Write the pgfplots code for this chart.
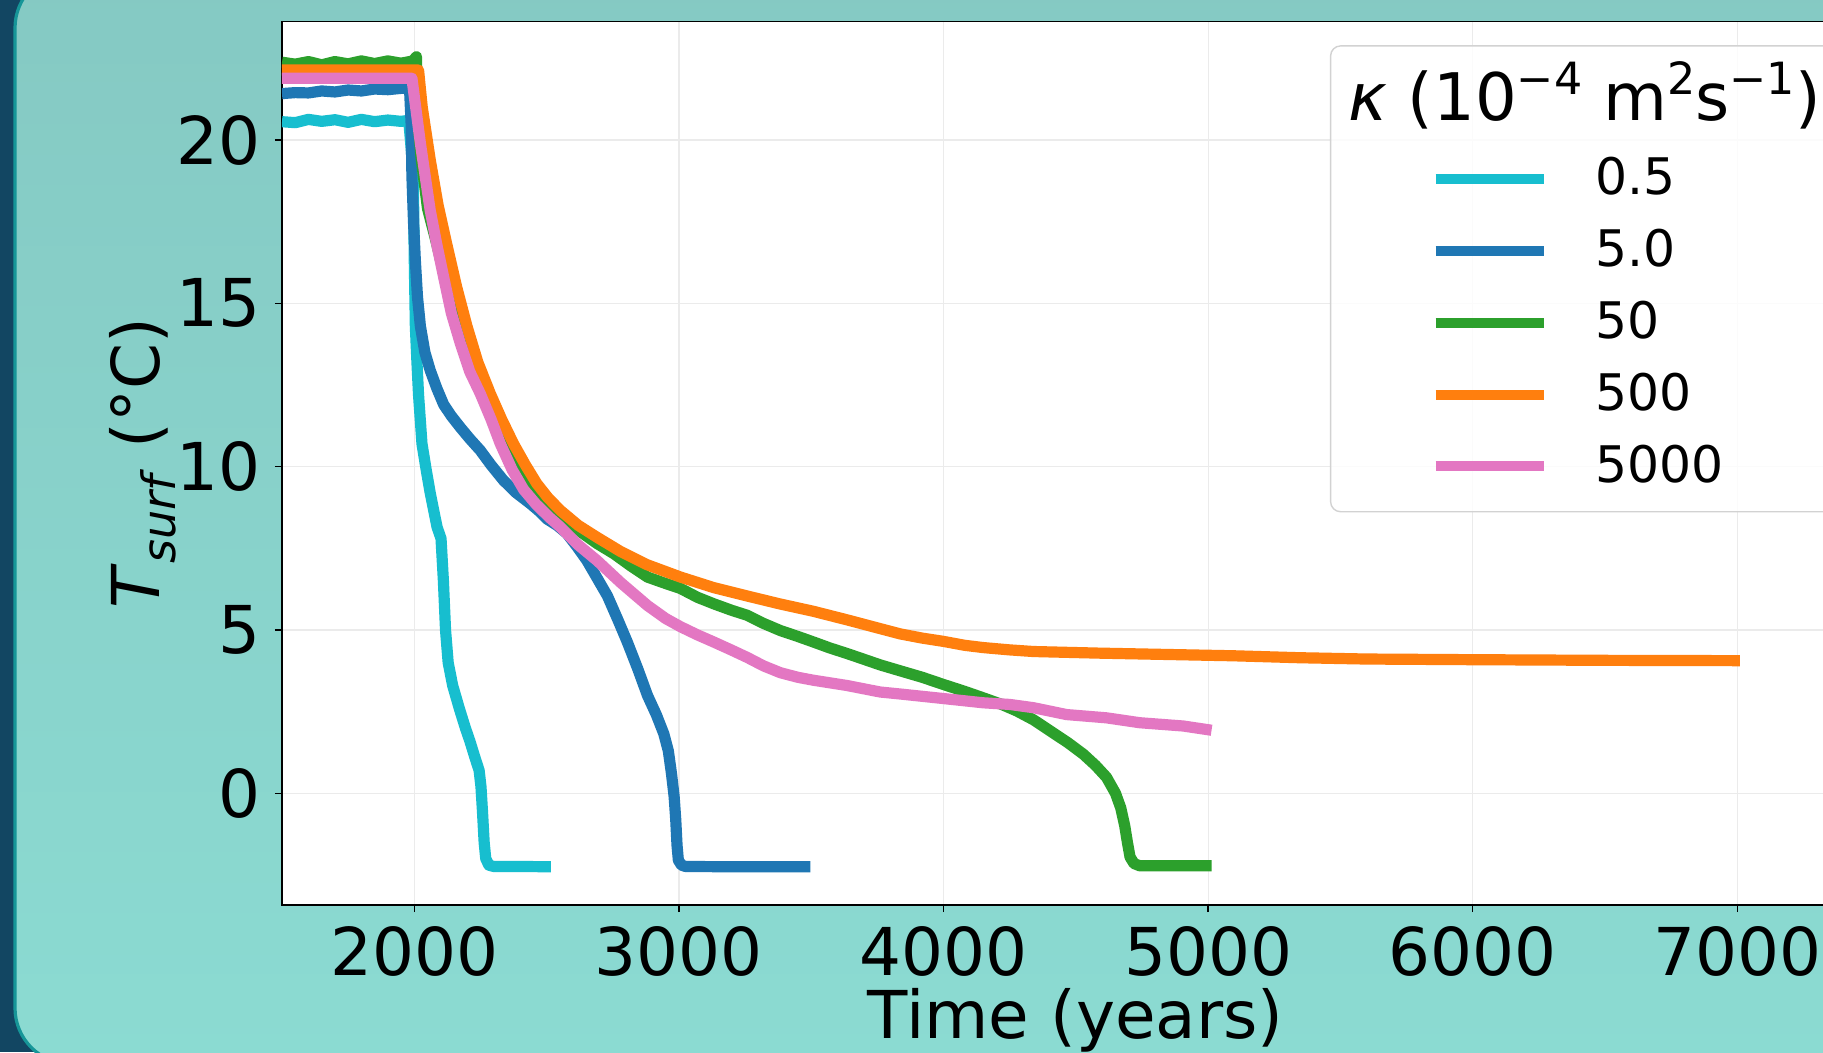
\documentclass[border=0pt]{standalone}
\usepackage{fontspec}
\setmainfont{DejaVu Sans}
\usepackage{pgfplots}
\pgfplotsset{compat=1.18}

\definecolor{tcyan}{HTML}{17BECF}
\definecolor{tblue}{HTML}{1F77B4}
\definecolor{tgreen}{HTML}{2CA02C}
\definecolor{torange}{HTML}{FF7F0E}
\definecolor{tpink}{HTML}{E377C2}
\definecolor{bgtop}{RGB}{133,201,195}
\definecolor{bgbot}{RGB}{139,219,210}
\definecolor{strip}{RGB}{18,70,98}
\definecolor{paneledge}{RGB}{22,150,152}
\definecolor{gridgray}{RGB}{235,235,235}

\newcommand{\supx}[1]{\raisebox{6.4pt}{\fontsize{11.1}{12}\selectfont #1}}

\begin{document}
\begin{tikzpicture}
\path[use as bounding box] (0,0) rectangle (455.75pt,263pt);
% slide background
\fill[strip] (0,0) rectangle (455.75pt,263pt);
\shade[top color=bgtop, bottom color=bgbot, draw=paneledge, line width=0.8pt,
  rounded corners=14pt] (3.75pt,-3pt) rectangle (470pt,270pt);

\begin{axis}[
  at={(70.5pt,36.75pt)}, anchor=south west,
  scale only axis, width=396.9pt, height=220.9pt,
  xmin=1500, xmax=7500, ymin=-3.42, ymax=23.63,
  axis background/.style={fill=white},
  axis line style={line width=0.4pt},
  xtick={2000,3000,...,7000}, ytick={0,5,...,20},
  tick align=outside, major tick length=1.75pt,
  tick style={black, line width=0.35pt},
  xtick pos=bottom, ytick pos=left,
  grid=major, major grid style={gridgray, line width=0.3pt},
  scaled ticks=false,
  /pgf/number format/1000 sep={},
  /pgf/number format/assume math mode=true,
  ticklabel style={font=\fontsize{16.5}{20}\selectfont},
  xlabel={Time (years)},
  ylabel={\textit{T}\raisebox{-0.25em}{\fontsize{11.5}{12}\selectfont\textit{surf}} (°C)},
  label style={font=\fontsize{16.5}{20}\selectfont},
  xlabel style={at={(axis description cs:0.5,0)}, anchor=base, yshift=-33.25pt},
  ylabel style={at={(axis description cs:-0.0876,0.5)}, anchor=center},
  legend style={at={(axis description cs:0.7235,0.8459)}, anchor=north west,
    draw=none, fill=none, inner sep=0pt, outer sep=0pt,
    row sep=7.1pt, column sep=11.75pt,
    font=\fontsize{12.6}{15}\selectfont, nodes={inner sep=0pt}},
  legend cell align=left,
  legend image code/.code={\draw[#1, line width=2.5pt] (0pt,0pt) -- (27pt,0pt);},
  every axis plot/.append style={line width=2.8pt, line join=round},
]

% legend frame and title
\draw[gray!35, line width=0.35pt, fill=white, fill opacity=0.8, rounded corners=2.5pt]
  (axis cs:5463,8.62) rectangle (axis cs:7700,22.88);
\node[anchor=base west, inner sep=0pt, font=\fontsize{16.4}{19}\selectfont]
  at (axis cs:5527,20.61) {\textit{κ} (10\supx{−4} m\supx{2}s\supx{−1})};

% kappa = 0.5
\addplot[tcyan] coordinates {
(1500,20.56) (1550,20.53) (1600,20.63) (1650,20.57) (1700,20.62) (1750,20.54)
(1800,20.63) (1850,20.56) (1900,20.61) (1950,20.57) (1979,20.6)
(1996,19.0) (2000,16.3) (2004,14.3) (2010,13.2) (2016,12.2) (2029,10.7)
(2045,9.9) (2060,9.2) (2086,8.15) (2101,7.8) (2110,6.5) (2118,5.0)
(2128,4.0) (2145,3.3) (2170,2.6) (2193,2.0) (2210,1.6) (2229,1.1)
(2245,0.7) (2252,0.2) (2258,-0.6) (2264,-1.5) (2270,-2.0) (2282,-2.2)
(2300,-2.24) (2400,-2.24) (2516,-2.25)};
\addlegendentry{0.5}

% kappa = 5.0
\addplot[tblue] coordinates {
(1500,21.42) (1550,21.45) (1600,21.44) (1650,21.5) (1700,21.47) (1750,21.53)
(1800,21.5) (1850,21.56) (1900,21.54) (1950,21.58) (1982,21.58)
(1988,20.5) (1991,18.9) (1997,17.5) (2004,16.3) (2012,15.2) (2023,14.3)
(2040,13.5) (2060,12.95) (2085,12.4) (2111,11.9) (2140,11.55) (2174,11.2)
(2210,10.85) (2249,10.5) (2290,10.05) (2337,9.58) (2385,9.2) (2438,8.87)
(2470,8.65) (2501,8.4) (2540,8.2) (2577,7.95) (2615,7.55) (2652,7.13)
(2690,6.6) (2730,6.04) (2770,5.3) (2805,4.63) (2845,3.8) (2881,3.0)
(2915,2.4) (2943,1.82) (2960,1.3) (2972,0.6) (2982,-0.1) (2988,-0.8)
(2993,-1.6) (2998,-2.05) (3010,-2.2) (3025,-2.24) (3200,-2.25) (3497,-2.25)};
\addlegendentry{5.0}

% kappa = 50
\addplot[tgreen] coordinates {
(1500,22.38) (1550,22.32) (1600,22.4) (1650,22.3) (1700,22.4) (1750,22.33)
(1800,22.42) (1850,22.34) (1900,22.42) (1950,22.35) (1995,22.42) (2008,22.55)
(2012,20.8) (2025,19.5) (2050,17.9) (2079,17.0) (2100,16.3) (2123,15.9)
(2150,15.0) (2193,13.9) (2240,12.9) (2290,11.8) (2350,10.7) (2410,9.8)
(2460,9.3) (2503,8.95) (2560,8.5) (2629,8.0) (2690,7.65) (2755,7.33)
(2820,6.95) (2881,6.62) (2940,6.45) (3006,6.27) (3070,6.0) (3132,5.8)
(3200,5.6) (3258,5.45) (3320,5.2) (3384,4.98) (3450,4.8) (3509,4.63)
(3570,4.45) (3635,4.28) (3700,4.1) (3761,3.93) (3836,3.75) (3920,3.55)
(4000,3.33) (4080,3.12) (4151,2.92) (4220,2.72) (4277,2.52) (4340,2.25)
(4403,1.91) (4470,1.55) (4528,1.2) (4575,0.85) (4616,0.49) (4650,0.0)
(4670,-0.45) (4685,-1.0) (4695,-1.5) (4705,-1.95) (4720,-2.15) (4742,-2.22)
(4900,-2.22) (5013,-2.22)};
\addlegendentry{50}

% kappa = 500
\addplot[torange] coordinates {
(1500,22.14) (1800,22.14) (2016,22.14) (2030,21.0) (2045,20.2) (2060,19.4)
(2090,18.0) (2123,16.8) (2160,15.5) (2199,14.3) (2240,13.2) (2287,12.24)
(2330,11.45) (2375,10.7) (2420,10.05) (2463,9.48) (2505,9.05) (2552,8.66)
(2620,8.2) (2690,7.84) (2780,7.4) (2879,7.0) (3006,6.62) (3130,6.3)
(3258,6.04) (3380,5.8) (3509,5.57) (3640,5.3) (3761,5.04) (3836,4.88)
(3920,4.75) (4000,4.65) (4080,4.53) (4151,4.46) (4250,4.39) (4340,4.34)
(4591,4.29) (4843,4.25) (5094,4.21) (5346,4.15) (5600,4.11) (6000,4.09)
(6500,4.07) (7010,4.06)};
\addlegendentry{500}

% kappa = 5000
\addplot[tpink] coordinates {
(1500,21.89) (1750,21.89) (1991,21.89) (2023,19.9) (2060,17.85) (2085,16.8)
(2111,15.8) (2140,14.7) (2174,13.77) (2210,12.9) (2249,12.24) (2290,11.45)
(2325,10.7) (2370,9.9) (2413,9.3) (2460,8.85) (2510,8.45) (2552,8.15)
(2620,7.6) (2690,7.13) (2780,6.45) (2881,5.75) (2950,5.35) (3006,5.1)
(3070,4.85) (3132,4.63) (3200,4.38) (3258,4.16) (3320,3.9) (3384,3.69)
(3450,3.55) (3509,3.46) (3635,3.3) (3761,3.1) (3836,3.04) (4000,2.9)
(4151,2.77) (4250,2.72) (4340,2.62) (4465,2.41) (4616,2.31) (4742,2.16)
(4906,2.06) (5013,1.93)};
\addlegendentry{5000}
\end{axis}
\end{tikzpicture}
\end{document}
